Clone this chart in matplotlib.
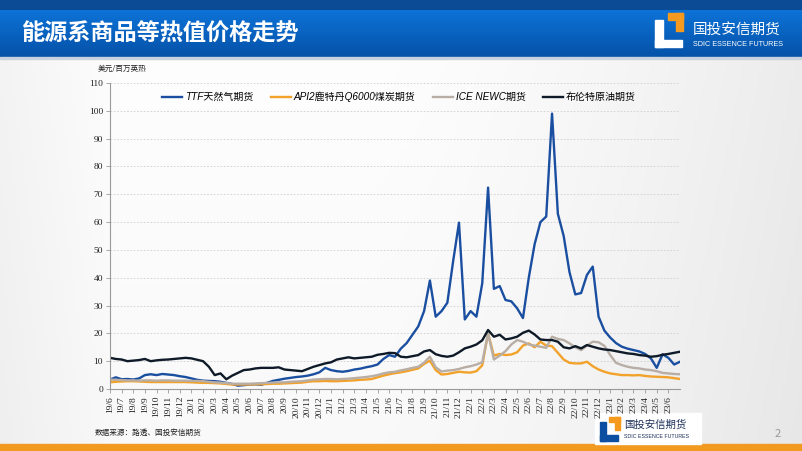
import numpy as np
import matplotlib
matplotlib.use('Agg')
import matplotlib.pyplot as plt
from matplotlib.patches import Rectangle
from matplotlib.font_manager import FontProperties

plt.rcParams['font.family'] = ['Noto Sans CJK SC', 'DejaVu Sans']

# semi-monthly readings, 2019-06 .. 2023-07 (USD / MMBtu)
ttf = [3.4, 4.2, 3.5, 3.6, 3.4, 3.8, 5.0, 5.3, 5.0, 5.4, 5.2, 5.0,
       4.6, 4.3, 3.8, 3.3, 3.0, 2.9, 2.8, 2.6, 2.2, 1.8, 1.2, 1.4,
       1.6, 1.7, 1.5, 2.2, 2.9, 3.3, 3.7, 4.0, 4.3, 4.5, 4.8, 5.3,
       6.0, 7.6, 6.8, 6.4, 6.2, 6.5, 7.0, 7.3, 7.8, 8.2, 8.8, 10.8,
       12.2, 11.6, 14.5, 16.5, 19.5, 22.5, 28.0, 39.0, 26.0, 28.0, 31.0, 46.0,
       59.8, 25.0, 28.0, 26.0, 38.0, 72.4, 36.0, 37.0, 32.0, 31.5, 29.0, 25.5,
       40.0, 52.0, 60.0, 62.0, 99.0, 63.0, 55.0, 42.0, 34.0, 34.5, 41.0, 44.0,
       26.0, 21.0, 18.5, 16.5, 15.2, 14.5, 14.0, 13.5, 12.6, 11.0, 7.6, 12.5,
       11.2, 8.8, 9.8]
api2 = [2.4, 2.6, 2.7, 2.8, 2.8, 2.7, 2.6, 2.5, 2.5, 2.5, 2.5, 2.5,
        2.5, 2.5, 2.4, 2.3, 2.2, 2.2, 2.1, 2.0, 1.8, 1.6, 1.6, 1.6,
        1.6, 1.7, 1.7, 1.8, 1.9, 1.9, 2.0, 2.1, 2.2, 2.3, 2.6, 2.8,
        2.8, 2.9, 2.8, 2.8, 2.9, 3.0, 3.1, 3.3, 3.4, 3.6, 4.2, 4.8,
        5.3, 5.7, 6.0, 6.4, 6.9, 7.4, 9.0, 10.2, 6.8, 5.2, 5.4, 5.8,
        6.2, 6.0, 5.9, 6.4, 8.5, 20.0, 12.0, 12.6, 12.2, 12.4, 13.2, 15.6,
        16.4, 15.0, 17.0, 15.6, 15.4, 13.0, 10.6, 9.4, 9.2, 9.2, 9.8, 8.2,
        7.0, 6.2, 5.6, 5.3, 5.0, 5.0, 4.9, 5.0, 4.7, 4.5, 4.4, 4.3,
        4.2, 3.9, 3.6]
newc = [3.4, 3.3, 3.2, 3.1, 3.1, 3.0, 3.1, 3.1, 3.0, 3.1, 3.1, 3.0,
        3.0, 3.0, 2.9, 2.9, 2.8, 2.6, 2.4, 2.3, 2.1, 1.9, 1.9, 1.9,
        1.9, 2.0, 2.1, 2.2, 2.3, 2.4, 2.4, 2.6, 2.7, 2.8, 3.1, 3.4,
        3.5, 3.6, 3.6, 3.5, 3.6, 3.7, 3.9, 4.1, 4.3, 4.6, 5.0, 5.6,
        6.0, 6.2, 6.7, 7.1, 7.6, 8.0, 9.5, 11.6, 7.8, 6.3, 6.6, 6.8,
        7.2, 7.8, 8.2, 8.8, 9.6, 20.0, 10.6, 12.0, 13.6, 16.0, 17.6, 17.0,
        16.0, 15.6, 15.2, 14.8, 18.8, 18.0, 17.6, 16.4, 15.0, 14.0, 15.6, 17.0,
        16.8, 15.5, 12.2, 9.4, 8.6, 8.0, 7.6, 7.4, 7.0, 6.8, 6.4, 5.8,
        5.6, 5.4, 5.3]
brent = [11.2, 10.8, 10.6, 10.0, 10.2, 10.4, 10.8, 10.0, 10.3, 10.5, 10.6, 10.8,
         11.0, 11.2, 11.0, 10.5, 10.0, 8.0, 5.0, 5.6, 3.5, 4.8, 5.8, 6.8,
         7.0, 7.4, 7.6, 7.6, 7.6, 7.8, 7.0, 6.8, 6.6, 6.4, 7.2, 8.0,
         8.6, 9.2, 9.6, 10.6, 11.0, 11.4, 11.0, 11.2, 11.4, 11.6, 12.3, 12.6,
         13.0, 12.9, 11.6, 11.4, 11.8, 12.2, 13.5, 14.0, 12.5, 11.9, 11.6, 12.0,
         13.2, 14.6, 15.2, 16.0, 17.5, 21.2, 18.8, 19.5, 17.8, 18.2, 18.8, 20.2,
         21.0, 19.6, 17.8, 17.6, 17.6, 17.0, 15.0, 14.6, 15.4, 14.6, 15.8, 15.2,
         14.6, 14.2, 14.0, 13.6, 13.2, 12.8, 12.6, 12.2, 12.0, 11.6, 11.8, 12.3,
         12.6, 13.0, 13.4]

month_labels = ['19/6', '19/7', '19/8', '19/9', '19/10', '19/11', '19/12',
                '20/1', '20/2', '20/3', '20/4', '20/5', '20/6', '20/7', '20/8',
                '20/9', '20/10', '20/11', '20/12',
                '21/1', '21/2', '21/3', '21/4', '21/5', '21/6', '21/7', '21/8',
                '21/9', '21/10', '21/11', '21/12',
                '22/1', '22/2', '22/3', '22/4', '22/5', '22/6', '22/7', '22/8',
                '22/9', '22/10', '22/11', '22/12',
                '23/1', '23/2', '23/3', '23/4', '23/5', '23/6']
series_names = ['TTF天然气期货', 'API2鹿特丹Q6000煤炭期货', 'ICE NEWC期货', '布伦特原油期货']
series_colors = ['#1a4ea0', '#f2a22a', '#b8aea6', '#0e1a28']

W, H = 802, 451
fig = plt.figure(figsize=(W / 100, H / 100), dpi=100)

# page background / decorations in pixel coords
bg = fig.add_axes([0, 0, 1, 1])
bg.set_xlim(0, W)
bg.set_ylim(H, 0)
bg.axis('off')

gx = np.linspace(0, 1, 200)
gy = np.linspace(0, 1, 120)[:, None]
shade = 0.997 - 0.07 * np.clip((gx - 0.45) / 0.55, 0, 1) ** 1.5 - 0.04 * np.clip((0.15 - gx) / 0.15, 0, 1) - 0.02 * gy
bg.imshow(np.dstack([shade, shade, shade]), extent=[0, W, H, 0], aspect='auto', zorder=0)

bg.add_patch(Rectangle((0, 0), W, 10, color='#0b4b96', zorder=1))
band = np.linspace(0, 1, 50)[:, None] * np.ones((1, 10))
c_top = np.array([0.05, 0.45, 0.84])
c_bot = np.array([0.02, 0.32, 0.66])
band_rgb = c_top[None, None, :] * (1 - band[:, :, None]) + c_bot[None, None, :] * band[:, :, None]
bg.imshow(band_rgb, extent=[0, W, 57, 10], aspect='auto', zorder=1)
bg.add_patch(Rectangle((0, 57), W, 2, color='#c9d3df', zorder=1))
bg.add_patch(Rectangle((0, 444), W, 7, color='#f29a20', zorder=1))
bg.set_xlim(0, W)
bg.set_ylim(H, 0)

bg.text(22, 34, '能源系商品等热值价格走势', color='white', fontsize=16.7, fontweight='bold',
        va='center', ha='left', zorder=3)

# top logo
bg.add_patch(Rectangle((655, 20), 8, 27, color='white', zorder=3))
bg.add_patch(Rectangle((655, 40), 27, 7, color='white', zorder=3))
bg.add_patch(Rectangle((668, 13), 15, 7, color='#f59a1e', zorder=3))
bg.add_patch(Rectangle((676, 13), 7, 18, color='#f59a1e', zorder=3))
bg.text(693, 30, '国投安信期货', color='white', fontsize=10.5, va='center', ha='left', zorder=3)
bg.text(693, 44, 'SDIC ESSENCE FUTURES', color='white', fontsize=5.2, va='center', ha='left',
        family=['Liberation Sans Narrow', 'Liberation Sans'], zorder=3)

# bottom logo
bg.add_patch(Rectangle((595, 413), 106, 31, color='white', zorder=3))
bg.add_patch(Rectangle((600, 422), 6, 19, color='#0b4ea2', zorder=4))
bg.add_patch(Rectangle((600, 435), 18, 6, color='#0b4ea2', zorder=4))
bg.add_patch(Rectangle((609, 417), 11, 5, color='#f59a1e', zorder=4))
bg.add_patch(Rectangle((615, 417), 5, 13, color='#f59a1e', zorder=4))
bg.text(624, 425, '国投安信期货', color='#1d2f5a', fontsize=7.5, va='center', ha='left', zorder=4)
bg.text(624, 437, 'SDIC ESSENCE FUTURES', color='#1d2f5a', fontsize=3.8, va='center', ha='left',
        family=['Liberation Sans Narrow', 'Liberation Sans'], zorder=4)

bg.text(95, 433, '数据来源：路透、国投安信期货', color='#222222', fontsize=5.5, va='center', ha='left', zorder=3)
bg.text(778, 434, '2', color='#999999', fontsize=8, va='center', ha='center', zorder=3)
bg.text(98, 69, '美元/百万英热', color='#222222', fontsize=5.5, va='center', ha='left', zorder=3)

# chart
ax = fig.add_axes([110 / W, (H - 389) / H, 570 / W, 306 / H])
ax.patch.set_alpha(0)
t = np.arange(len(ttf)) * 0.5
for vals, name, col in zip([ttf, api2, newc, brent], series_names, series_colors):
    ax.plot(t, vals, color=col, lw=1.7, label=name, solid_joinstyle='round')

ax.set_xlim(0, 49)
ax.set_ylim(0, 110)
ax.set_yticks(np.arange(0, 111, 10))
ax.set_xticks(np.arange(len(month_labels)))
ax.set_xticklabels(month_labels, rotation=90)
ax.grid(axis='y', color='#cfcfcf', linestyle=(0, (2, 2)), lw=0.6)
ax.set_axisbelow(True)
for s in ['top', 'right']:
    ax.spines[s].set_visible(False)
for s in ['left', 'bottom']:
    ax.spines[s].set_color('#9a9a9a')
    ax.spines[s].set_linewidth(0.8)
ax.tick_params(axis='both', colors='#9a9a9a', length=3, width=0.6, labelcolor='#222222', pad=2)
for lab in ax.get_xticklabels() + ax.get_yticklabels():
    lab.set_fontfamily('Liberation Serif')
    lab.set_fontsize(6.8)

leg_font = FontProperties(family=['Liberation Sans', 'Noto Sans CJK SC'], style='italic', size=7.2)
ax.legend(loc='center left', bbox_to_anchor=(0.085, 0.955), ncol=4, frameon=False, prop=leg_font,
          handlelength=2.0, handletextpad=0.3, columnspacing=1.7, borderaxespad=0)

fig.savefig('out.png', dpi=100)
